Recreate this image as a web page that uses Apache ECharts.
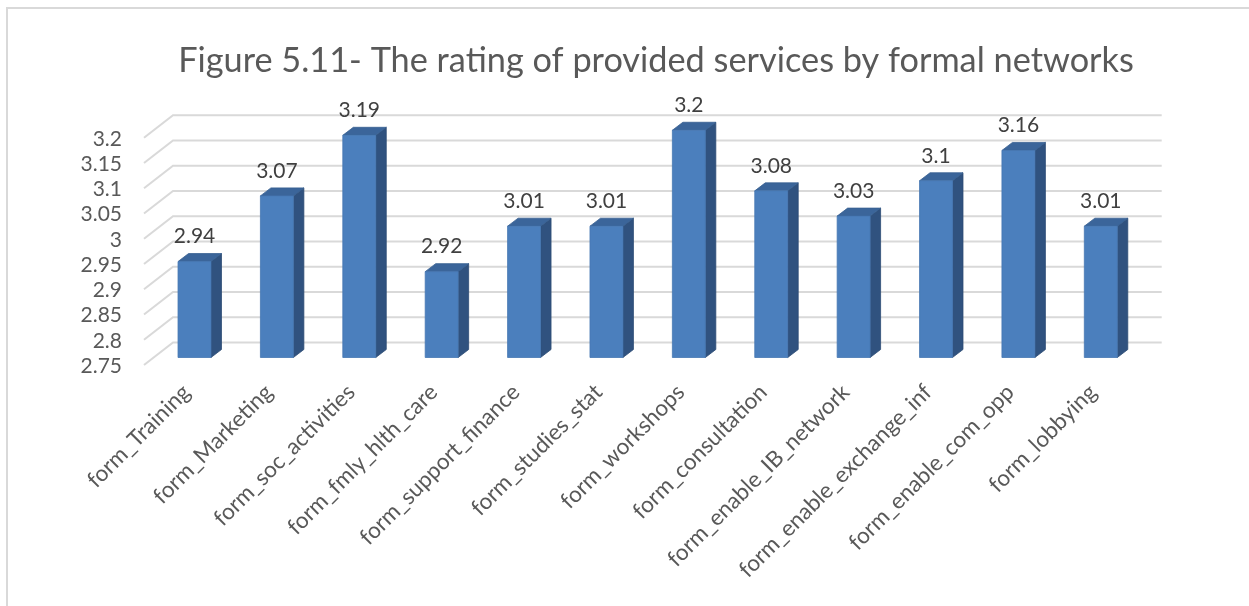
<!DOCTYPE html>
<html>
<head>
<meta charset="utf-8">
<script src="https://cdn.jsdelivr.net/npm/echarts@6/dist/echarts.min.js"></script>
<style>
  html, body { margin: 0; padding: 0; background: #ffffff; }
  #chart { width: 1249px; height: 606px; }
</style>
</head>
<body>
<div id="chart"></div>
<script>
// Service categories and their mean rating
const categories = [
  'form_Training', 'form_Marketing', 'form_soc_activities', 'form_fmly_hlth_care',
  'form_support_finance', 'form_studies_stat', 'form_workshops', 'form_consultation',
  'form_enable_IB_network', 'form_enable_exchange_inf', 'form_enable_com_opp', 'form_lobbying'
];
const ratings = [2.94, 3.07, 3.19, 2.92, 3.01, 3.01, 3.2, 3.08, 3.03, 3.1, 3.16, 3.01];
const yTicks = [2.75, 2.8, 2.85, 2.9, 2.95, 3, 3.05, 3.1, 3.15, 3.2];
const titleText = 'Figure 5.11- The rating of provided services by formal networks';

// Pseudo-3D depth offsets (pixels)
const FRONT_DX = 9.3, FRONT_DY = 7.5;   // label plane in front of the bars
const BACK_DX = 19.7, BACK_DY = 15;     // back wall behind the bars
const BAR_DX = 10.5, BAR_DY = 8;        // bar depth
const FONT = 'Lato, "Open Sans", sans-serif';
const AXIS_COLOR = '#595959';

const chart = echarts.init(document.getElementById('chart'), null, { renderer: 'canvas' });

function fmt(v) { return String(parseFloat(Number(v).toFixed(2))); }

// Gridline: short diagonal from the front plane to the back wall, then across the wall,
// with the tick value written at the front end
function renderGridLine(params, api) {
  const cs = params.coordSys;
  const v = api.value(1);
  const y = api.coord([0, v])[1];
  const L = cs.x, R = cs.x + cs.width;
  return {
    type: 'group',
    children: [
      {
        type: 'polyline',
        shape: { points: [[L - FRONT_DX, y + FRONT_DY], [L + BACK_DX, y - BACK_DY], [R + BACK_DX, y - BACK_DY]] },
        style: { stroke: '#d9d9d9', lineWidth: 2, fill: null }
      },
      {
        type: 'text',
        style: {
          text: fmt(v), x: L - FRONT_DX - 22, y: y + FRONT_DY + 1,
          align: 'right', verticalAlign: 'middle',
          fill: AXIS_COLOR, fontSize: 21, fontFamily: FONT
        }
      }
    ]
  };
}

// Box-shaped bar: front face, right side, top face, value label and category label
function renderBar(params, api) {
  const idx = api.value(0);
  const v = api.value(1);
  const top = api.coord([idx, v]);
  const base = api.coord([idx, yTicks[0]]);
  const bw = api.size([1, 0])[0] * 0.4;
  const x0 = top[0] - bw / 2, x1 = top[0] + bw / 2;
  const yt = top[1], yb = base[1];
  return {
    type: 'group',
    children: [
      {
        type: 'polygon',
        shape: { points: [[x1, yt], [x1 + BAR_DX, yt - BAR_DY], [x1 + BAR_DX, yb - BAR_DY], [x1, yb]] },
        style: { fill: '#30527f', stroke: '#2c4b74', lineWidth: 0.8 }
      },
      {
        type: 'polygon',
        shape: { points: [[x0, yt], [x1, yt], [x1 + BAR_DX, yt - BAR_DY], [x0 + BAR_DX, yt - BAR_DY]] },
        style: { fill: '#3b659a', stroke: '#375f91', lineWidth: 0.8 }
      },
      {
        type: 'rect',
        shape: { x: x0, y: yt, width: bw, height: yb - yt },
        style: { fill: '#4b7fbd', stroke: '#4677b2', lineWidth: 0.8 }
      },
      {
        type: 'text',
        style: {
          text: fmt(v), x: top[0], y: yt - 25,
          align: 'center', verticalAlign: 'middle',
          fill: '#404040', fontSize: 21, fontFamily: FONT
        }
      },
      {
        type: 'text',
        x: top[0] - 8, y: yb + 31,
        rotation: Math.PI / 4,
        style: {
          text: categories[idx], x: 0, y: 0,
          align: 'right', verticalAlign: 'middle',
          fill: AXIS_COLOR, fontSize: 22.5, fontFamily: FONT
        }
      }
    ]
  };
}

const option = {
  backgroundColor: '#ffffff',
  animation: false,
  title: {
    text: titleText,
    left: 651,
    top: 39,
    textAlign: 'center',
    textStyle: { color: AXIS_COLOR, fontSize: 34.3, fontWeight: 'normal', fontFamily: FONT }
  },
  graphic: [{
    type: 'rect',
    shape: { x: 7, y: 8, width: 1400, height: 800 },
    style: { fill: null, stroke: '#d9d9d9', lineWidth: 2 },
    silent: true
  }],
  grid: { left: 153.3, right: 107, top: 130.25, bottom: 248.5, outerBoundsMode: 'none' },
  xAxis: {
    type: 'category',
    data: categories,
    axisLine: { show: false },
    axisTick: { show: false },
    axisLabel: { show: false }
  },
  yAxis: {
    type: 'value',
    min: yTicks[0],
    max: yTicks[yTicks.length - 1],
    interval: 0.05,
    axisLine: { show: false },
    axisTick: { show: false },
    splitLine: { show: false },
    axisLabel: { show: false }
  },
  series: [
    {
      type: 'custom',
      name: 'grid',
      renderItem: renderGridLine,
      data: yTicks.map(v => [0, v]),
      encode: { x: 0, y: 1 },
      clip: false,
      silent: true,
      z: 1
    },
    {
      type: 'custom',
      name: 'rating',
      renderItem: renderBar,
      data: ratings.map((v, i) => [i, v]),
      encode: { x: 0, y: 1 },
      clip: false,
      z: 5
    }
  ]
};

chart.setOption(option);
</script>
</body>
</html>
